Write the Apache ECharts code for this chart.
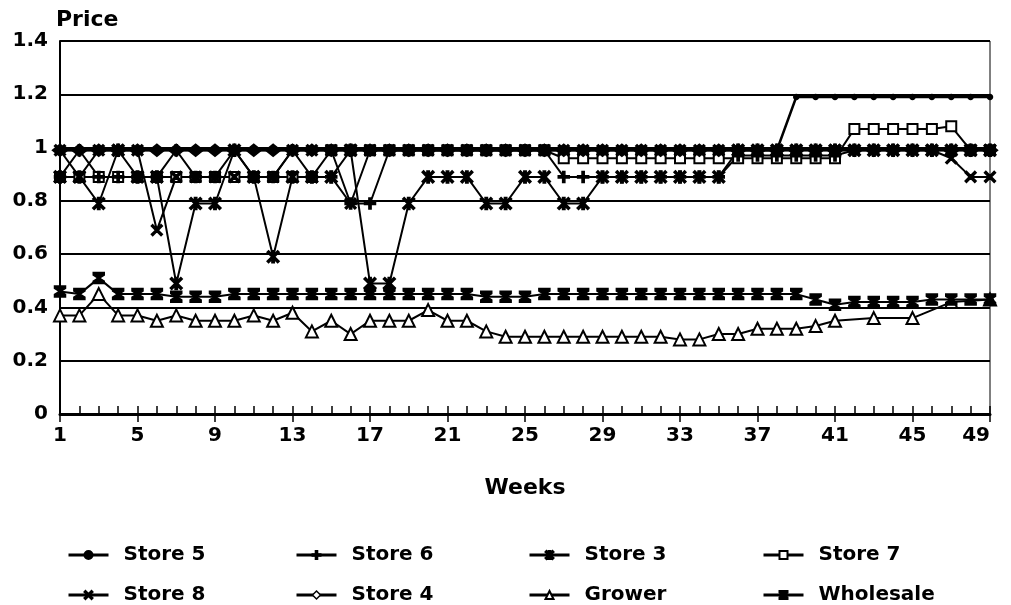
<!DOCTYPE html>
<html>
<head>
<meta charset="utf-8">
<title>Weekly price by outlet</title>
<script src="https://cdn.jsdelivr.net/npm/echarts@6/dist/echarts.min.js"></script>
<style>
  html, body { margin: 0; padding: 0; background: #fff; }
  #chart { width: 1011px; height: 605px; }
</style>
</head>
<body>
<div id="chart"></div>
<script>
// Week numbers along the x axis
const weeks = ['1','2','3','4','5','6','7','8','9','10','11','12','13','14','15','16','17','18','19','20',
  '21','22','23','24','25','26','27','28','29','30','31','32','33','34','35','36','37','38','39','40',
  '41','42','43','44','45','46','47','48','49'];

// Weekly prices per outlet
const store5 = [0.99,0.99,0.99,0.99,0.99,0.99,0.99,0.99,0.99,0.99,0.99,0.99,0.99,0.99,0.99,0.99,0.99,0.99,0.99,0.99,
  0.99,0.99,0.99,0.99,0.99,0.99,0.99,0.99,0.99,0.99,0.99,0.99,0.99,0.99,0.99,0.99,0.99,0.99,1.19,1.19,
  1.19,1.19,1.19,1.19,1.19,1.19,1.19,1.19,1.19];

const store6 = [0.89,0.99,0.89,0.89,0.89,0.89,0.99,0.89,0.89,0.99,0.89,0.89,0.99,0.89,0.89,0.79,0.79,0.99,0.99,0.99,
  0.99,0.99,0.99,0.99,0.99,0.99,0.89,0.89,0.89,0.89,0.89,0.89,0.89,0.89,0.89,0.97,0.97,0.97,0.97,0.97,
  0.97,0.99,0.99,0.99,0.99,0.99,0.99,0.99,0.99];

const store3 = [0.89,0.89,0.79,0.99,0.89,0.89,0.49,0.79,0.79,0.99,0.89,0.59,0.89,0.89,0.89,0.99,0.49,0.49,0.79,0.89,
  0.89,0.89,0.79,0.79,0.89,0.89,0.79,0.79,0.89,0.89,0.89,0.89,0.89,0.89,0.89,0.99,0.99,0.99,0.99,0.99,
  0.99,0.99,0.99,0.99,0.99,0.99,0.99,0.99,0.99];

const store7 = [0.89,0.89,0.89,0.89,0.89,0.89,0.89,0.89,0.89,0.89,0.89,0.89,0.89,0.89,0.99,0.99,0.99,0.99,0.99,0.99,
  0.99,0.99,0.99,0.99,0.99,0.99,0.96,0.96,0.96,0.96,0.96,0.96,0.96,0.96,0.96,0.96,0.96,0.96,0.96,0.96,
  0.96,1.07,1.07,1.07,1.07,1.07,1.08,0.99,0.99];

const store8 = [0.99,0.89,0.99,0.99,0.99,0.69,0.89,0.89,0.89,0.89,0.89,0.89,0.99,0.99,0.99,0.79,0.99,0.99,0.99,0.99,
  0.99,0.99,0.99,0.99,0.99,0.99,0.99,0.99,0.99,0.99,0.99,0.99,0.99,0.99,0.99,0.99,0.99,0.99,0.99,0.99,
  0.99,0.99,0.99,0.99,0.99,0.99,0.96,0.89,0.89];

const store4 = [0.99,0.99,0.99,0.99,0.99,0.99,0.99,0.99,0.99,0.99,0.99,0.99,0.99,0.99,0.99,0.99,0.99,0.99,0.99,0.99,
  0.99,0.99,0.99,0.99,0.99,0.99,0.99,0.99,0.99,0.99,0.99,0.99,0.99,0.99,0.99,0.99,0.99,0.99,0.99,0.99,
  0.99,0.99,0.99,0.99,0.99,0.99,0.99,0.99,0.99];

const grower = [0.37,0.37,0.45,0.37,0.37,0.35,0.37,0.35,0.35,0.35,0.37,0.35,0.38,0.31,0.35,0.30,0.35,0.35,0.35,0.39,
  0.35,0.35,0.31,0.29,0.29,0.29,0.29,0.29,0.29,0.29,0.29,0.29,0.28,0.28,0.30,0.30,0.32,0.32,0.32,0.33,
  0.35,null,0.36,null,0.36,null,0.42,null,0.43];

const wholesale = [0.46,0.45,0.51,0.45,0.45,0.45,0.44,0.44,0.44,0.45,0.45,0.45,0.45,0.45,0.45,0.45,0.45,0.45,0.45,0.45,
  0.45,0.45,0.44,0.44,0.44,0.45,0.45,0.45,0.45,0.45,0.45,0.45,0.45,0.45,0.45,0.45,0.45,0.45,0.45,0.43,
  0.41,0.42,0.42,0.42,0.42,0.43,0.43,0.43,0.43];

// Marker outlines (drawn filled)
const PLUS = 'path://M4,0H6V4H10V6H6V10H4V6H0V4H4Z';
const CROSS = 'path://M1.2,0L5,3.8L8.8,0L10,1.2L6.2,5L10,8.8L8.8,10L5,6.2L1.2,10L0,8.8L3.8,5L0,1.2Z';
const STAR = 'path://M4,0H6V10H4Z M1.2,0L5,3.8L8.8,0L10,1.2L6.2,5L10,8.8L8.8,10L5,6.2L1.2,10L0,8.8L3.8,5L0,1.2Z';
const HOURGLASS = 'path://M0,0H10V2.2L5.6,5L10,7.8V10H0V7.8L4.4,5L0,2.2Z';

const FONT = 'DejaVu Sans';
const INK = '#000';

function line(name, values, symbol, size, extra) {
  return Object.assign({
    name: name,
    type: 'line',
    data: values,
    symbol: symbol,
    symbolSize: size,
    showAllSymbol: true,
    connectNulls: true,
    animation: false,
    lineStyle: { color: INK, width: 2 },
    itemStyle: { color: INK, borderColor: INK, borderWidth: 1.5 }
  }, extra || {});
}

// One legend block per entry, laid out as a 4 x 2 table under the plot
const legendCols = [62, 290, 523, 757];
const legendRows = [540, 580];
const legendLine = { width: 3 };
const legendOrder = [
  [{ name: 'Store 5', lineStyle: legendLine }, { name: 'Store 6', lineStyle: legendLine },
   { name: 'Store 3', lineStyle: legendLine }, { name: 'Store 7', lineStyle: legendLine }],
  [{ name: 'Store 8', lineStyle: legendLine },
   { name: 'Store 4', lineStyle: legendLine, itemStyle: { color: '#fff', borderColor: INK, borderWidth: 1.5 } },
   { name: 'Grower', lineStyle: legendLine }, { name: 'Wholesale', lineStyle: legendLine }]
];
const legends = [];
legendOrder.forEach(function (row, r) {
  row.forEach(function (item, c) {
    legends.push({
      left: legendCols[c],
      top: legendRows[r],
      orient: 'horizontal',
      itemWidth: 40,
      itemHeight: 10,
      selectedMode: false,
      data: [item],
      textStyle: { fontFamily: FONT, fontWeight: 'bold', fontSize: 20, color: INK, padding: [0, 0, 0, 10] }
    });
  });
});

const chart = echarts.init(document.getElementById('chart'), null, { renderer: 'canvas' });

chart.setOption({
  backgroundColor: '#fff',
  animation: false,
  grid: { left: 60, right: 21, top: 41, bottom: 191, show: true, borderColor: INK, borderWidth: 1 },
  legend: legends,
  xAxis: [
    {
      type: 'category',
      data: weeks,
      boundaryGap: false,
      name: 'Weeks',
      nameLocation: 'middle',
      nameGap: 63,
      nameTextStyle: { fontFamily: FONT, fontWeight: 'bold', fontSize: 22, color: INK },
      axisLine: { lineStyle: { color: INK, width: 3 } },
      axisTick: { show: true, inside: true, interval: 0, length: 8, lineStyle: { color: INK, width: 1.5 } },
      axisLabel: { interval: 3, margin: 12, fontFamily: FONT, fontWeight: 'bold', fontSize: 20, color: INK, alignMaxLabel: 'right' },
      splitLine: { show: false }
    },
    {
      type: 'category',
      data: weeks,
      boundaryGap: false,
      position: 'bottom',
      axisLine: { show: false },
      axisTick: { show: true, inside: false, interval: 3, length: 8, lineStyle: { color: INK, width: 1.5 } },
      axisLabel: { show: false },
      splitLine: { show: false }
    }
  ],
  yAxis: {
    type: 'value',
    min: 0,
    max: 1.4,
    interval: 0.2,
    name: 'Price',
    nameLocation: 'end',
    nameGap: 10,
    nameTextStyle: { fontFamily: FONT, fontWeight: 'bold', fontSize: 22, color: INK, align: 'left', padding: [0, 0, 0, -4] },
    axisLine: { show: true, lineStyle: { color: INK, width: 2 } },
    axisTick: { show: false },
    axisLabel: { margin: 12, fontFamily: FONT, fontWeight: 'bold', fontSize: 20, color: INK },
    splitLine: { show: true, lineStyle: { color: INK, width: 2 } }
  },
  series: [
    line('Store 7', store7, 'emptyRect', 10),
    line('Grower', grower, 'emptyTriangle', 12),
    line('Wholesale', wholesale, HOURGLASS, [11, 11]),
    line('Store 5', store5, 'circle', 5, { lineStyle: { color: INK, width: 2.5 } }),
    line('Store 6', store6, PLUS, 11),
    line('Store 3', store3, STAR, 12),
    line('Store 8', store8, CROSS, 11),
    line('Store 4', store4, 'diamond', [15, 12])
  ]
});
</script>
</body>
</html>
